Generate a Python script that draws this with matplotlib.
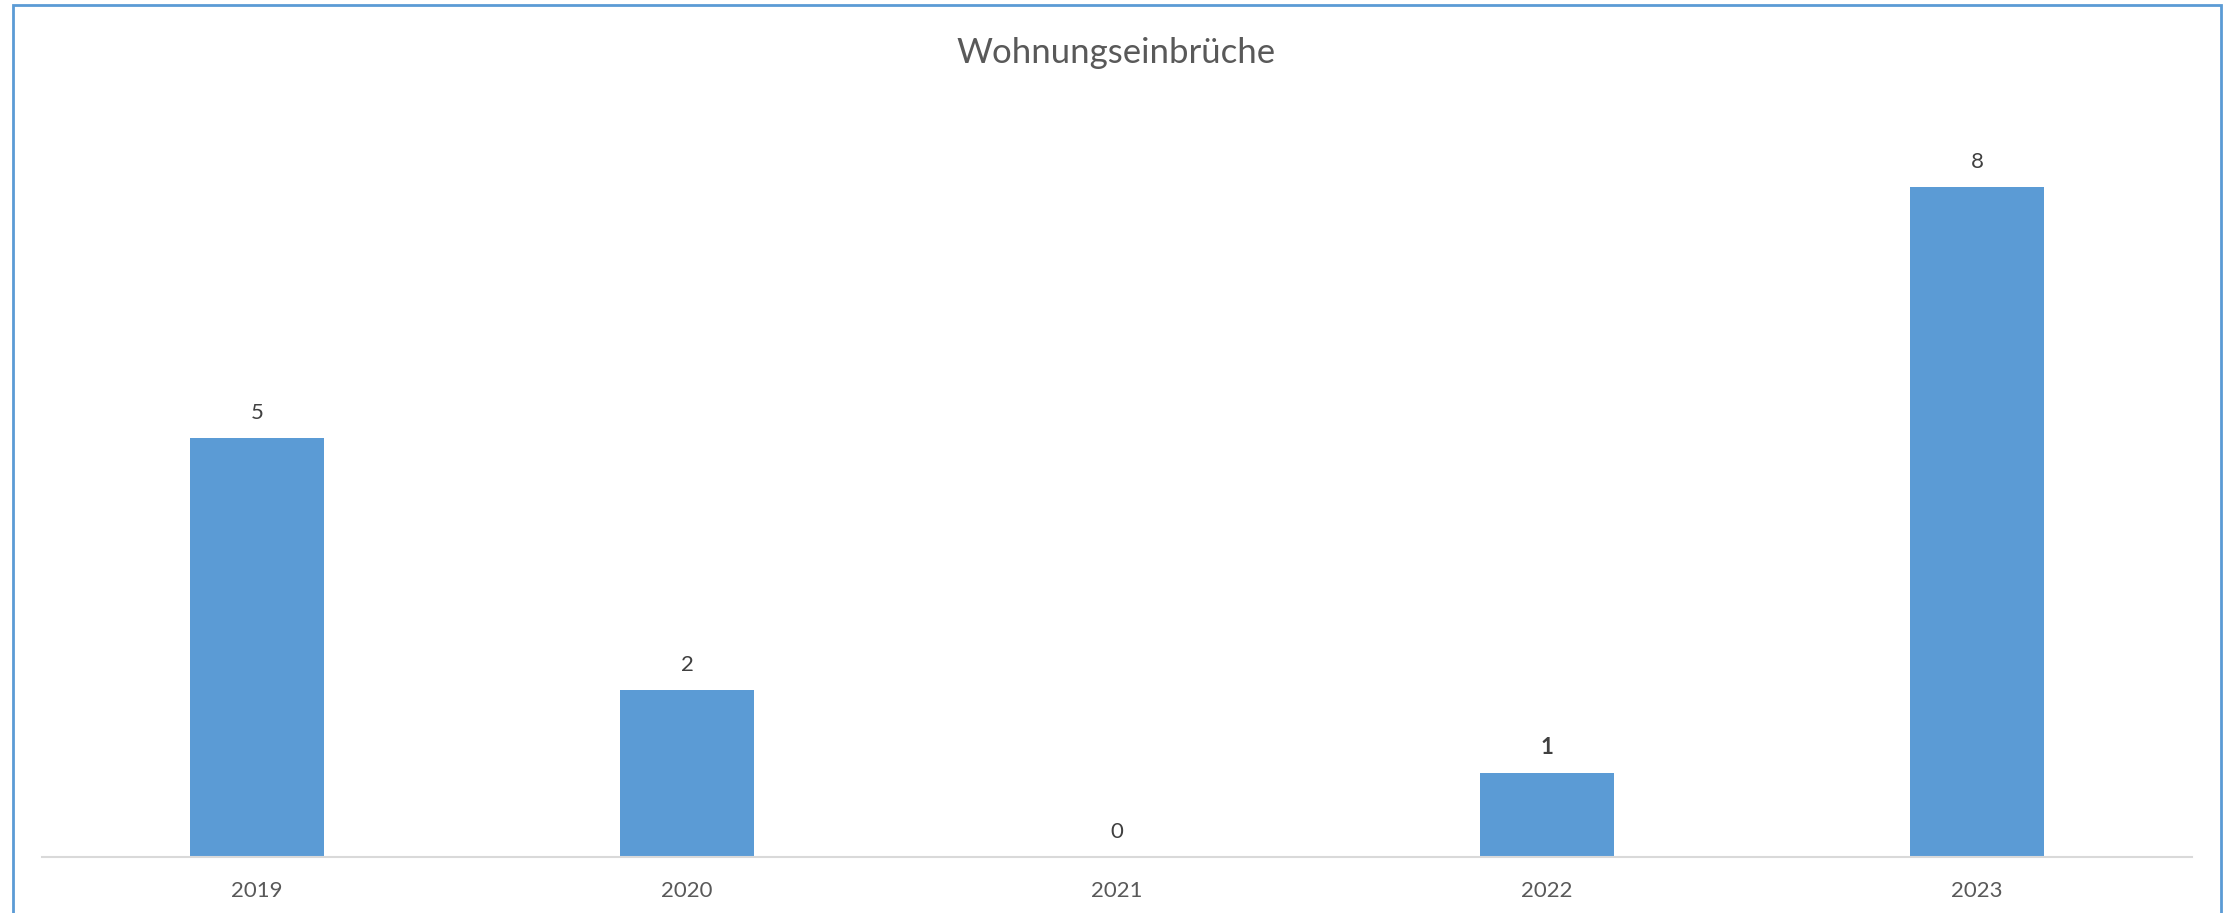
import matplotlib.pyplot as plt
from matplotlib.patches import Rectangle

years = ['2019', '2020', '2021', '2022', '2023']
counts = [5, 2, 0, 1, 8]
bold_labels = ['2022']

bar_color = '#5B9BD5'
text_color = '#595959'

plt.rcParams['font.family'] = ['Lato', 'DejaVu Sans']

fig = plt.figure(figsize=(22.33, 9.13), dpi=100)
ax = fig.add_axes([0.0188, 0.0613, 0.9628, 0.8253])

x = list(range(len(years)))
bars = ax.bar(x, counts, width=0.312, color=bar_color, zorder=2)

for rect, year, val in zip(bars, years, counts):
    ax.annotate(str(val), (rect.get_x() + rect.get_width() / 2, val),
                xytext=(0, 15), textcoords='offset pixels',
                ha='center', va='bottom', fontsize=16, color='#404040',
                fontweight='bold' if year in bold_labels else 'normal')

ax.set_xlim(-0.5, len(years) - 0.5)
ax.set_ylim(0, 9)
ax.set_xticks(x)
ax.set_xticklabels(years, fontsize=16, color=text_color)
ax.tick_params(axis='x', length=0, pad=17)
ax.set_yticks([])
for side in ['top', 'right', 'left']:
    ax.spines[side].set_visible(False)
ax.spines['bottom'].set_color('#D9D9D9')
ax.spines['bottom'].set_linewidth(1.5)

fig.text(0.5, 1 - 63 / 913, 'Wohnungseinbrüche', ha='center', va='baseline',
         fontsize=25, color=text_color)

# chart frame, open at the bottom like the cropped screenshot
frame = Rectangle((13 / 2233, -0.05), (2221 - 13) / 2233, 1.05 - 5 / 913,
                  transform=fig.transFigure, fill=False,
                  edgecolor=bar_color, linewidth=2)
fig.patches.append(frame)

fig.savefig('out.png', dpi=100)
